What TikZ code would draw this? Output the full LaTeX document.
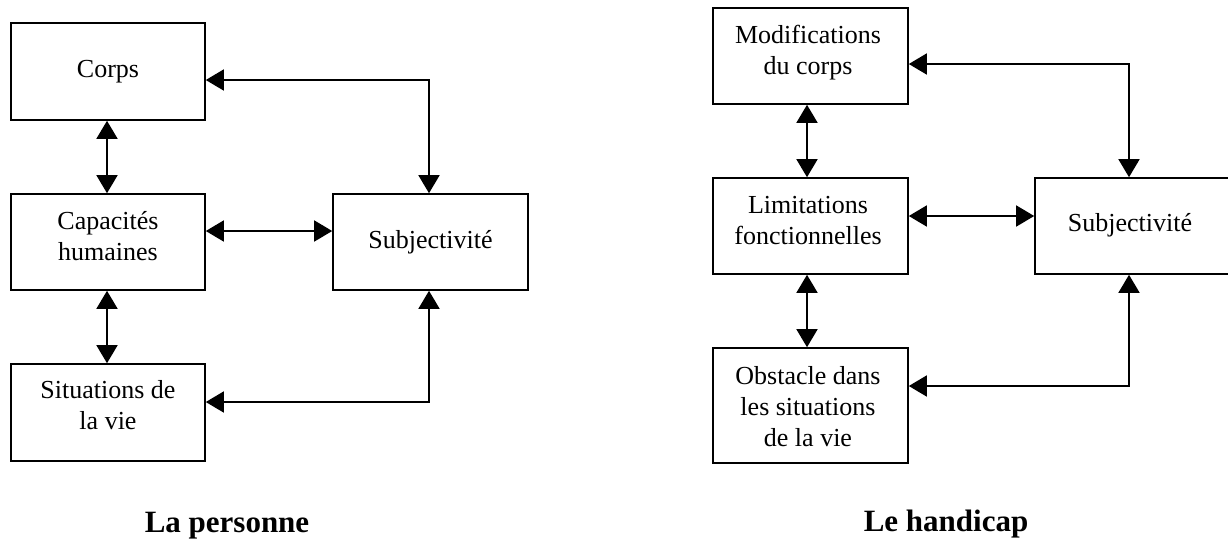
\documentclass[tikz,border=0pt]{standalone}
\usepackage{fontspec}
\setmainfont{Liberation Serif}
\usetikzlibrary{arrows.meta,fit,calc}
\newcommand{\lns}[1]{\begin{tabular}[t]{@{}c@{}}#1\end{tabular}}
\begin{document}
\begin{tikzpicture}[x=0.75pt,y=-0.75pt,
  box/.style={draw, line width=1.2pt, inner sep=0pt},
  txt/.style={anchor=base, inner sep=0pt, font=\fontsize{19.5pt}{23.25pt}\selectfont},
  ttl/.style={anchor=base, inner sep=0pt, font=\fontsize{23.25pt}{28pt}\selectfont\bfseries},
  biarrow/.style={line width=1.2pt, {Triangle[length=13.5pt,width=15.75pt]}-{Triangle[length=13.5pt,width=15.75pt]}}]
\useasboundingbox (0,0) rectangle (1228,540);

% left diagram
\node[box, fit={(11,23) (205,120)}] (corps) {};
\node[box, fit={(11,194) (205,290)}] (cap) {};
\node[box, fit={(11,364) (205,461)}] (sit) {};
\node[box, fit={(333,194) (528,290)}] (subL) {};

\node[txt] (tcorps) at (108,77) {Corps};
\node[txt] (tcap) at (108,229) {\lns{Capacités\\humaines}};
\node[txt] (tsubL) at (430.5,248) {Subjectivité};
\node[txt] (tsit) at (108,398) {\lns{Situations de\\la vie}};

\coordinate (a1) at (429,80);
\coordinate (a2) at (0,231);
\coordinate (a3) at (429,402);
\coordinate (a4) at (107,0);
\draw[biarrow] (corps.east |- a1) -- (a1) -- (subL.north -| a1);
\draw[biarrow] (cap.east |- a2) -- (subL.west |- a2);
\draw[biarrow] (sit.east |- a3) -- (a3) -- (subL.south -| a3);
\draw[biarrow] (corps.south -| a4) -- (cap.north -| a4);
\draw[biarrow] (cap.south -| a4) -- (sit.north -| a4);

\node[ttl] (t1) at (227,532) {La personne};

% right diagram
\node[box, fit={(713,8) (908,104)}] (mod) {};
\node[box, fit={(713,178) (908,274)}] (lim) {};
\node[box, fit={(713,348) (908,463)}] (obs) {};
\node[box, fit={(1035,178) (1231,274)}] (subR) {};

\node[txt] (tmod) at (808,43) {\lns{Modifications\\du corps}};
\node[txt] (tlim) at (808,213) {\lns{Limitations\\fonctionnelles}};
\node[txt] (tsubR) at (1130,231) {Subjectivité};
\node[txt] (tobs) at (808,384) {\lns{Obstacle dans\\les situations\\de la vie}};

\coordinate (b1) at (1129,64);
\coordinate (b2) at (0,216);
\coordinate (b3) at (1129,386);
\coordinate (b4) at (807,0);
\draw[biarrow] (mod.east |- b1) -- (b1) -- (subR.north -| b1);
\draw[biarrow] (lim.east |- b2) -- (subR.west |- b2);
\draw[biarrow] (obs.east |- b3) -- (b3) -- (subR.south -| b3);
\draw[biarrow] (mod.south -| b4) -- (lim.north -| b4);
\draw[biarrow] (lim.south -| b4) -- (obs.north -| b4);

\node[ttl] (t2) at (946,531) {Le handicap};
\end{tikzpicture}
\end{document}
